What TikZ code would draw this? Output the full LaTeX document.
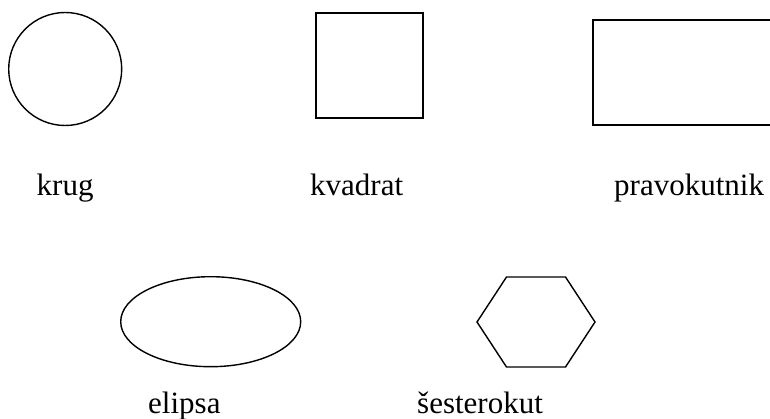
\documentclass[tikz,border=0pt]{standalone}
\usepackage{fontspec}
\setmainfont{Liberation Serif}
\usetikzlibrary{calc,shapes.geometric}
\begin{document}
\begin{tikzpicture}[x=1pt,y=-1pt,
  shp/.style={draw=black,line width=1.4pt},
  lbl/.style={anchor=base west,inner sep=0pt,font=\fontsize{31}{35}\selectfont}]
\useasboundingbox (0,0) rectangle (770,419);
\fill[white] (0,0) rectangle (770,419);
\node[shp,circle,minimum size=113pt,inner sep=0pt] (krugS) at (65.2,69) {};
\node[shp,rectangle,minimum width=107pt,minimum height=105pt,inner sep=0pt] (kvadratS) at (369.5,65.5) {};
\node[shp,rectangle,minimum width=200pt,minimum height=105pt,inner sep=0pt] (pravS) at (693,72.5) {};
\node[shp,ellipse,minimum width=180pt,minimum height=90pt,inner sep=0pt] (elipsaS) at (210.7,321.7) {};
\coordinate (hc) at (535.5,322);
\draw[shp,line join=miter] ($(hc)+(-58.5,0)$) -- ++(29.5,-45) -- ++(59,0) -- ++(29.5,45) -- ++(-29.5,45) -- ++(-59,0) -- cycle;
\node[lbl] (krug) at (36.5,196) {krug};
\node[lbl] (kvadrat) at (310,196) {kvadrat};
\node[lbl] (pravokutnik) at (614,196) {pravokutnik};
\node[lbl] (elipsa) at (148,413) {elipsa};
\node[lbl] (sesterokut) at (417,413) {šesterokut};
\end{tikzpicture}
\end{document}
